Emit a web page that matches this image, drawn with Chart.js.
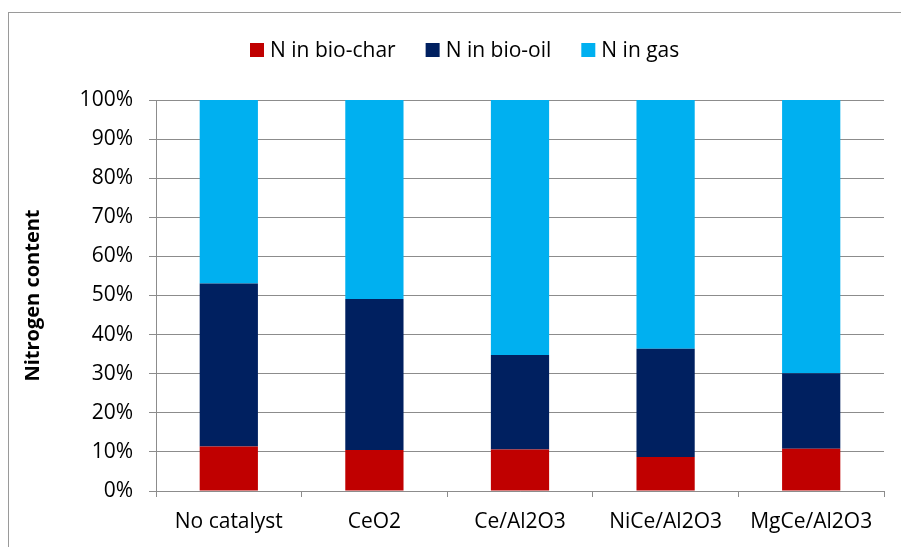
<!DOCTYPE html>
<html>
<head>
<meta charset="utf-8">
<script src="https://cdn.jsdelivr.net/npm/chart.js@4.4.1/dist/chart.umd.min.js"></script>
<style>
  body { margin: 0; background: #fff; }
  canvas { display: block; }
</style>
</head>
<body>
<canvas id="nChart" width="901" height="547"></canvas>
<script>
// nitrogen distribution per catalyst (% of total N)
const catalysts = ['No catalyst', 'CeO2', 'Ce/Al2O3', 'NiCe/Al2O3', 'MgCe/Al2O3'];
const nBioChar = [11.4, 10.5, 10.6, 8.7, 10.8];
const nBioOil = [41.7, 38.6, 24.2, 27.7, 19.3];
const nGas = [46.9, 50.9, 65.2, 63.6, 69.9];
const seriesNames = ['N in bio-char', 'N in bio-oil', 'N in gas'];
const yTickLabels = ['0%', '10%', '20%', '30%', '40%', '50%', '60%', '70%', '80%', '90%', '100%'];

const FONT = "'Open Sans', sans-serif";
const GRID = '#8c8c8c';

// outer frame + legend row
const frameAndLegend = {
    id: 'frameAndLegend',
    beforeDraw(chart) {
        const ctx = chart.ctx;
        ctx.save();
        ctx.fillStyle = '#fff';
        ctx.fillRect(0, 0, chart.width, chart.height);
        ctx.strokeStyle = '#9a9a9a';
        ctx.lineWidth = 1;
        ctx.strokeRect(8.5, 12.5, chart.width, chart.height);
        ctx.restore();
    },
    afterDraw(chart) {
        const ctx = chart.ctx;
        ctx.save();
        ctx.font = '21px ' + FONT;
        const box = 14, gap = 6, spacing = 30;
        const items = chart.data.datasets.map(ds => ({
            text: ds.label, color: ds.backgroundColor, w: ctx.measureText(ds.label).width
        }));
        const total = items.reduce((s, it) => s + box + gap + it.w, 0) + spacing * (items.length - 1);
        let x = Math.round(465 - total / 2);
        const y = 50;
        ctx.textBaseline = 'middle';
        items.forEach(it => {
            ctx.fillStyle = it.color;
            ctx.fillRect(x, y - box / 2, box, box);
            ctx.fillStyle = '#000';
            ctx.fillText(it.text, x + box + gap, y + 1);
            x += box + gap + it.w + spacing;
        });
        ctx.restore();
    }
};

new Chart(document.getElementById('nChart'), {
    type: 'bar',
    data: {
        labels: catalysts,
        datasets: [
            { label: seriesNames[0], data: nBioChar, backgroundColor: '#C00000' },
            { label: seriesNames[1], data: nBioOil, backgroundColor: '#002060' },
            { label: seriesNames[2], data: nGas, backgroundColor: '#00B0F0' }
        ]
    },
    options: {
        responsive: false,
        animation: false,
        devicePixelRatio: 1,
        layout: { padding: { top: 100, right: 17, bottom: 0, left: 0 } },
        datasets: { bar: { categoryPercentage: 1, barPercentage: 0.4 } },
        plugins: {
            legend: { display: false },
            tooltip: { enabled: false }
        },
        scales: {
            x: {
                stacked: true,
                afterFit: s => { s.height = 56; },
                grid: { drawOnChartArea: false, drawTicks: true, tickLength: 6, color: GRID },
                border: { color: GRID },
                ticks: { color: '#000', font: { family: FONT, size: 21 }, padding: 12, maxRotation: 0 }
            },
            y: {
                stacked: true,
                min: 0,
                max: 100,
                afterFit: s => { s.width = 156; },
                grid: { color: GRID, tickLength: 7 },
                border: { color: GRID },
                ticks: {
                    stepSize: 10,
                    color: '#000',
                    font: { family: FONT, size: 21 },
                    padding: 16,
                    callback: (v, i) => yTickLabels[i]
                },
                title: {
                    display: true,
                    text: 'Nitrogen content',
                    color: '#000',
                    font: { family: FONT, size: 20, weight: 'bold' },
                    padding: { top: 21, bottom: 0 }
                }
            }
        }
    },
    plugins: [frameAndLegend]
});
</script>
</body>
</html>
